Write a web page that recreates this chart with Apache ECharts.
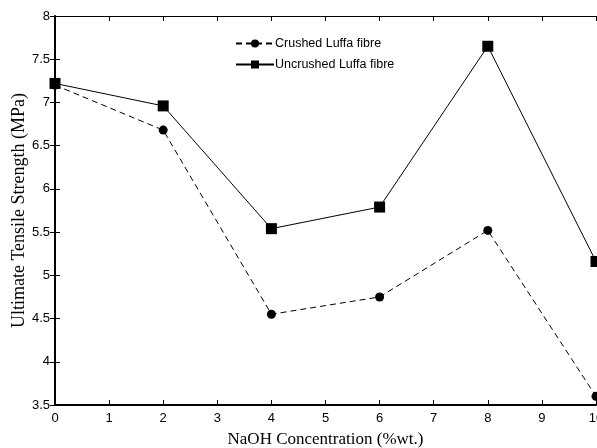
<!DOCTYPE html>
<html><head><meta charset="utf-8">
<script src="https://cdn.jsdelivr.net/npm/echarts@6/dist/echarts.min.js"></script>
<style>html,body{margin:0;padding:0;background:#fff}#c{width:597px;height:448px}</style>
</head><body><div id="c"></div>
<script>
var xValues = [0, 2, 4, 6, 8, 10];
var crushed = [7.20, 6.68, 4.55, 4.75, 5.52, 3.60];
var uncrushed = [7.22, 6.96, 5.54, 5.79, 7.65, 5.16];
var seriesNames = ['Crushed Luffa fibre', 'Uncrushed Luffa fibre'];

var chart = echarts.init(document.getElementById('c'));
var tickFont = {fontFamily: 'Liberation Sans', fontSize: 13, color: '#000'};
function pairs(v){ return xValues.map(function(x,i){return [x, v[i]];}); }
chart.setOption({
  animation: false,
  backgroundColor: '#fff',
  grid: {left: 55, right: 1, top: 16, bottom: 43, containLabel: false, outerBoundsMode: 'none'},
  legend: {
    orient: 'vertical', left: 230, top: 32, itemGap: 8, itemWidth: 38, itemHeight: 10,
    textStyle: {fontFamily: 'Liberation Sans', fontSize: 12.5, color: '#000', padding: [0,0,0,-4]},
    data: seriesNames
  },
  xAxis: [{
    type: 'value', min: 0, max: 10, interval: 1,
    name: 'NaOH Concentration (%wt.)', nameLocation: 'middle', nameGap: 26, nameMoveOverlap: false,
    nameTextStyle: {fontFamily: 'Liberation Serif', fontSize: 17, color: '#000'},
    axisLine: {lineStyle: {color: '#000', width: 2}},
    axisTick: {inside: true, length: 5, lineStyle: {color: '#000'}},
    axisLabel: Object.assign({margin: 7}, tickFont),
    splitLine: {show: false}
  },{
    type: 'value', min: 0, max: 10, interval: 1, position: 'top',
    axisLine: {show: true, lineStyle: {color: '#000', width: 1}},
    axisTick: {inside: true, length: 5, lineStyle: {color: '#000'}},
    axisLabel: {show: false}, splitLine: {show: false}
  }],
  yAxis: [{
    type: 'value', min: 3.5, max: 8, interval: 0.5,
    name: 'Ultimate Tensile Strength (MPa)', nameLocation: 'middle', nameGap: 27, nameMoveOverlap: false,
    nameTextStyle: {fontFamily: 'Liberation Serif', fontSize: 18, color: '#000'},
    axisLine: {show: true, lineStyle: {color: '#000', width: 2}},
    axisTick: {show: true, inside: true, length: 5, lineStyle: {color: '#000'}},
    axisLabel: Object.assign({margin: 5}, tickFont),
    splitLine: {show: false}
  },{
    type: 'value', min: 3.5, max: 8, interval: 0.5, position: 'right',
    axisLine: {show: true, lineStyle: {color: '#000', width: 1}},
    axisTick: {show: true, inside: true, length: 5, lineStyle: {color: '#000'}},
    axisLabel: {show: false}, splitLine: {show: false}
  }],
  series: [{
    name: seriesNames[0], type: 'line', data: pairs(crushed),
    symbol: 'circle', symbolSize: 9,
    lineStyle: {color: '#000', width: 1, type: [6, 4]},
    itemStyle: {color: '#000'}
  },{
    name: seriesNames[1], type: 'line', data: pairs(uncrushed),
    symbol: 'rect', symbolSize: 11,
    lineStyle: {color: '#000', width: 1},
    itemStyle: {color: '#000'}
  }]
});
</script></body></html>
